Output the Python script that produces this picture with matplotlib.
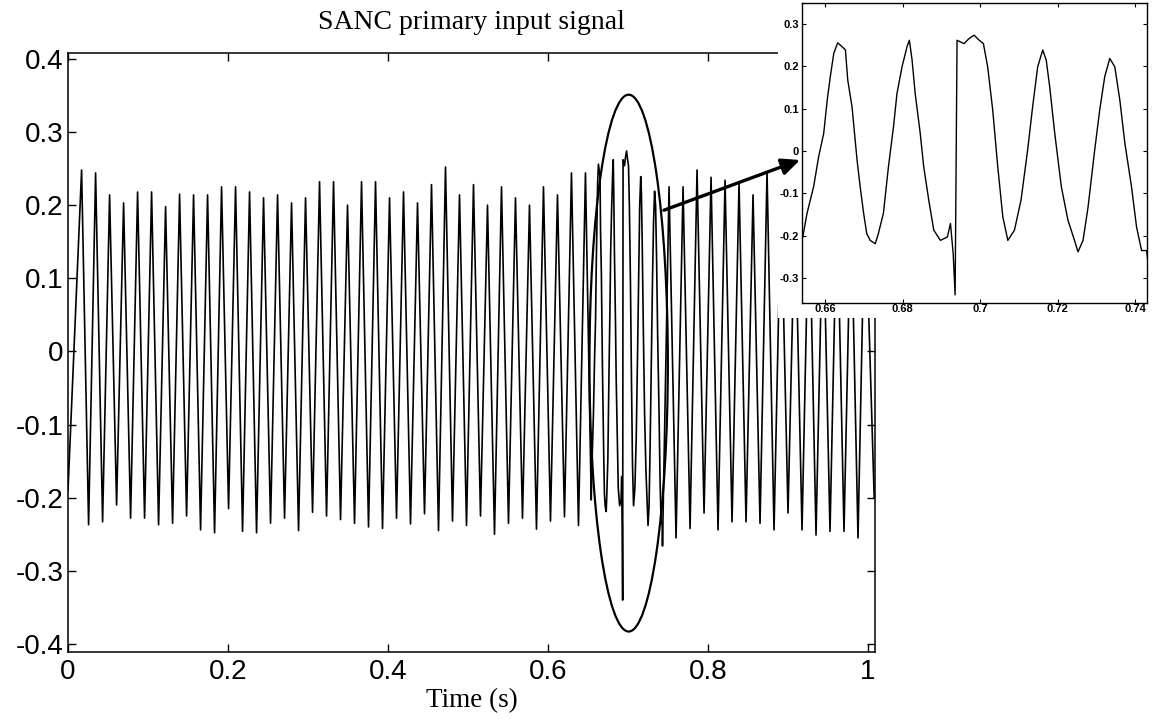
import numpy as np
import matplotlib
matplotlib.use("Agg")
import matplotlib.pyplot as plt
from matplotlib.patches import Ellipse, Rectangle

# ---------------- data ----------------
period = 0.0175                 # s, fundamental period of the primary signal
start_time, start_value = 0.0, -0.19
first_peak_before = 0.017       # first maximum before the zoom window
peaks_before = [0.248, 0.244, 0.214, 0.203, 0.218, 0.218, 0.198, 0.215, 0.214, 0.214,
                0.225, 0.225, 0.218, 0.210, 0.214, 0.203, 0.210, 0.232, 0.232, 0.200,
                0.232, 0.232, 0.210, 0.218, 0.203, 0.228, 0.252, 0.214, 0.228, 0.200,
                0.225, 0.210, 0.200, 0.225, 0.214, 0.244, 0.244]
troughs_before = [-0.237, -0.233, -0.210, -0.228, -0.228, -0.237, -0.235, -0.225, -0.244, -0.248,
                  -0.215, -0.246, -0.248, -0.235, -0.228, -0.245, -0.220, -0.225, -0.230, -0.235,
                  -0.240, -0.242, -0.228, -0.236, -0.222, -0.245, -0.232, -0.238, -0.225, -0.250,
                  -0.235, -0.228, -0.243, -0.232, -0.226, -0.238]

# detailed trace inside the zoomed window (0.654 .. 0.744 s)
zoom_t = [0.6542, 0.6553, 0.6570, 0.6583, 0.6596, 0.6605, 0.6613, 0.6622, 0.6632, 0.6643,
          0.6652, 0.6658, 0.6669, 0.6682, 0.6690, 0.6699, 0.6707, 0.6716, 0.6729, 0.6737,
          0.6750, 0.6763, 0.6776, 0.6785, 0.6798, 0.6811, 0.6817, 0.6824, 0.6832, 0.6845,
          0.6854, 0.6867, 0.6880, 0.6897, 0.6915, 0.6923, 0.6930, 0.6935, 0.6940, 0.6958,
          0.6971, 0.6984, 0.6997, 0.7008, 0.7019, 0.7032, 0.7045, 0.7058, 0.7071, 0.7088,
          0.7105, 0.7122, 0.7135, 0.7148, 0.7161, 0.7170, 0.7179, 0.7192, 0.7209, 0.7226,
          0.7243, 0.7252, 0.7265, 0.7278, 0.7295, 0.7308, 0.7321, 0.7334, 0.7347, 0.7360,
          0.7373, 0.7390, 0.7403, 0.7416, 0.7429, 0.7433]
zoom_v = [-0.203, -0.147, -0.084, -0.013, 0.042, 0.120, 0.176, 0.231, 0.256, 0.247,
          0.239, 0.168, 0.105, -0.021, -0.084, -0.147, -0.195, -0.211, -0.219, -0.195,
          -0.147, -0.037, 0.057, 0.136, 0.199, 0.247, 0.262, 0.215, 0.136, 0.042,
          -0.037, -0.116, -0.187, -0.211, -0.203, -0.171, -0.242, -0.340, 0.262, 0.254,
          0.266, 0.274, 0.262, 0.254, 0.199, 0.097, -0.037, -0.155, -0.211, -0.187,
          -0.116, 0.002, 0.105, 0.199, 0.239, 0.215, 0.152, 0.042, -0.084, -0.163,
          -0.211, -0.238, -0.211, -0.132, 0.002, 0.097, 0.176, 0.219, 0.199, 0.120,
          0.018, -0.084, -0.179, -0.235, -0.235, -0.266]

first_peak_after = 0.7515
peaks_after = [0.225, 0.225, 0.248, 0.238, 0.234, 0.230, 0.214, 0.245, 0.210, 0.200,
               0.215, 0.200, 0.210, 0.205, 0.220]
troughs_after = [-0.255, -0.242, -0.221, -0.244, -0.233, -0.233, -0.235, -0.244, -0.221, -0.244,
                 -0.251, -0.246, -0.246, -0.255]
end_time, end_value = 1.008, -0.20

main_xticks = [0, 0.2, 0.4, 0.6, 0.8, 1.0]
main_xticklabels = ["0", "0.2", "0.4", "0.6", "0.8", "1"]
main_yticks = [-0.4, -0.3, -0.2, -0.1, 0, 0.1, 0.2, 0.3, 0.4]
main_yticklabels = ["-0.4", "-0.3", "-0.2", "-0.1", "0", "0.1", "0.2", "0.3", "0.4"]
inset_xticks = [0.66, 0.68, 0.70, 0.72, 0.74]
inset_xticklabels = ["0.66", "0.68", "0.7", "0.72", "0.74"]
inset_yticks = [-0.3, -0.2, -0.1, 0, 0.1, 0.2, 0.3]
inset_yticklabels = ["-0.3", "-0.2", "-0.1", "0", "0.1", "0.2", "0.3"]

title_text = "SANC primary input signal"
xlabel_text = "Time (s)"

# ---------------- assemble signal from extrema ----------------
t_list, v_list = [start_time], [start_value]
for k, pk in enumerate(peaks_before):
    t_list.append(first_peak_before + k * period); v_list.append(pk)
    if k < len(troughs_before):
        t_list.append(first_peak_before + (k + 0.5) * period); v_list.append(troughs_before[k])
t_list += zoom_t; v_list += zoom_v
for k, pk in enumerate(peaks_after):
    t_list.append(first_peak_after + k * period); v_list.append(pk)
    if k < len(troughs_after):
        t_list.append(first_peak_after + (k + 0.5) * period); v_list.append(troughs_after[k])
t_list.append(end_time); v_list.append(end_value)
t = np.array(t_list); v = np.array(v_list)

# ---------------- figure ----------------
W, H = 1154, 725
fig = plt.figure(figsize=(W / 100, H / 100), dpi=100)
sans = "Liberation Sans"
serif = "Liberation Serif"

ax = fig.add_axes([68 / W, (H - 652) / H, 807 / W, 599 / H])
ax.plot(t, v, color="black", lw=1.2)
ax.set_xlim(0, 1.009)
ax.set_ylim(-0.411, 0.408)
ax.set_xticks(main_xticks)
ax.set_xticklabels(main_xticklabels, fontsize=20, family=sans)
ax.set_yticks(main_yticks)
ax.set_yticklabels(main_yticklabels, fontsize=20, family=sans)
ax.tick_params(axis="both", direction="in", top=True, right=True, length=5.5, width=1.0)
ax.tick_params(axis="x", pad=5)
ax.tick_params(axis="y", pad=3.5)
for s in ax.spines.values():
    s.set_linewidth(1.1)
ax.set_title(title_text, fontsize=20, family=serif, pad=17)
ax.set_xlabel(xlabel_text, fontsize=19.5, family=serif, labelpad=2)

ell = Ellipse((0.701, -0.016), width=0.098, height=0.734, fill=False,
              edgecolor="black", lw=1.6, zorder=5)
ax.add_patch(ell)

# white backdrop behind the pasted inset
fig.patches.append(Rectangle((778 / W, (H - 318) / H), (W - 778) / W, 318 / H,
                             transform=fig.transFigure, facecolor="white",
                             edgecolor="none", zorder=1))

axi = fig.add_axes([802 / W, (H - 303) / H, 345 / W, 300 / H])
axi.set_zorder(2)
mask = (t >= 0.6535) & (t <= 0.7435)
axi.plot(t[mask], v[mask], color="black", lw=1.0)
axi.set_xlim(0.654, 0.743)
axi.set_ylim(-0.359, 0.35)
axi.set_xticks(inset_xticks)
axi.set_xticklabels(inset_xticklabels, fontsize=8, family=sans, fontweight="bold")
axi.set_yticks(inset_yticks)
axi.set_yticklabels(inset_yticklabels, fontsize=8, family=sans, fontweight="bold")
axi.tick_params(axis="both", direction="in", top=True, right=True, length=3, width=0.8)
axi.tick_params(axis="x", pad=1)
axi.tick_params(axis="y", pad=2)
for s in axi.spines.values():
    s.set_linewidth(1.0)

axi.annotate("", xy=(0.6535, -0.021), xycoords="data",
             xytext=(0.745, 0.193), textcoords=ax.transData,
             arrowprops=dict(arrowstyle="-|>,head_length=1.1,head_width=0.5",
                             color="black", lw=2.4, shrinkA=0, shrinkB=0),
             annotation_clip=False)

fig.savefig("out.png", dpi=100)
